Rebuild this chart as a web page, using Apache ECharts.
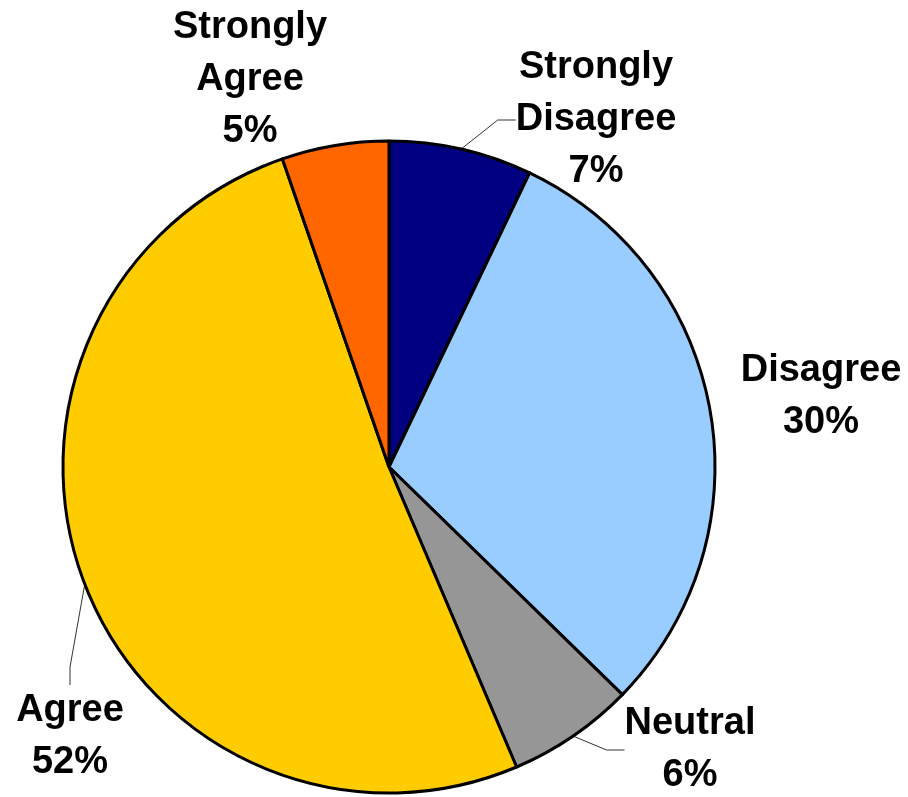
<!DOCTYPE html>
<html>
<head>
<meta charset="utf-8">
<script src="https://cdn.jsdelivr.net/npm/echarts@6/dist/echarts.min.js"></script>
<style>
html,body{margin:0;padding:0;background:#fff;}
#chart{width:908px;height:797px;}
</style>
</head>
<body>
<div id="chart"></div>
<script>
// Data
const categories = ['Strongly Disagree', 'Disagree', 'Neutral', 'Agree', 'Strongly Agree'];
const values = [7.1, 30.2, 6.3, 51.1, 5.3];
const percentLabels = ['7%', '30%', '6%', '52%', '5%'];
const colors = ['#000080', '#99CCFF', '#969696', '#FFCC00', '#FF6600'];
const showLeader = [true, false, true, true, false];

// Label placement (centre of each label block) in pixels
const labelPos = [
  [596, 120],
  [821, 397],
  [690, 750],
  [70, 737],
  [250, 80]
];

const chart = echarts.init(document.getElementById('chart'), null, {renderer: 'canvas'});

const data = categories.map((c, i) => ({
  name: c,
  value: values[i],
  itemStyle: {color: colors[i]},
  labelLine: {show: showLeader[i]}
}));

chart.setOption({
  animation: false,
  backgroundColor: '#ffffff',
  series: [{
    type: 'pie',
    center: [389, 467],
    radius: 326,
    startAngle: 90,
    clockwise: true,
    avoidLabelOverlap: false,
    emphasis: {disabled: true},
    itemStyle: {borderColor: '#000', borderWidth: 3},
    label: {
      show: true,
      position: 'outside',
      formatter: p => p.name.replace(' ', '\n') + '\n' + percentLabels[p.dataIndex],
      fontFamily: '"Liberation Sans", Arial, sans-serif',
      fontWeight: 'bold',
      fontSize: 38,
      lineHeight: 52,
      color: '#000',
      align: 'center'
    },
    labelLine: {
      show: true,
      length: 20,
      length2: 18,
      lineStyle: {color: '#333', width: 1}
    },
    labelLayout: function (params) {
      const p = labelPos[params.dataIndex];
      return {x: p[0], y: p[1], align: 'center', verticalAlign: 'middle'};
    },
    data: data
  }]
});
</script>
</body>
</html>
